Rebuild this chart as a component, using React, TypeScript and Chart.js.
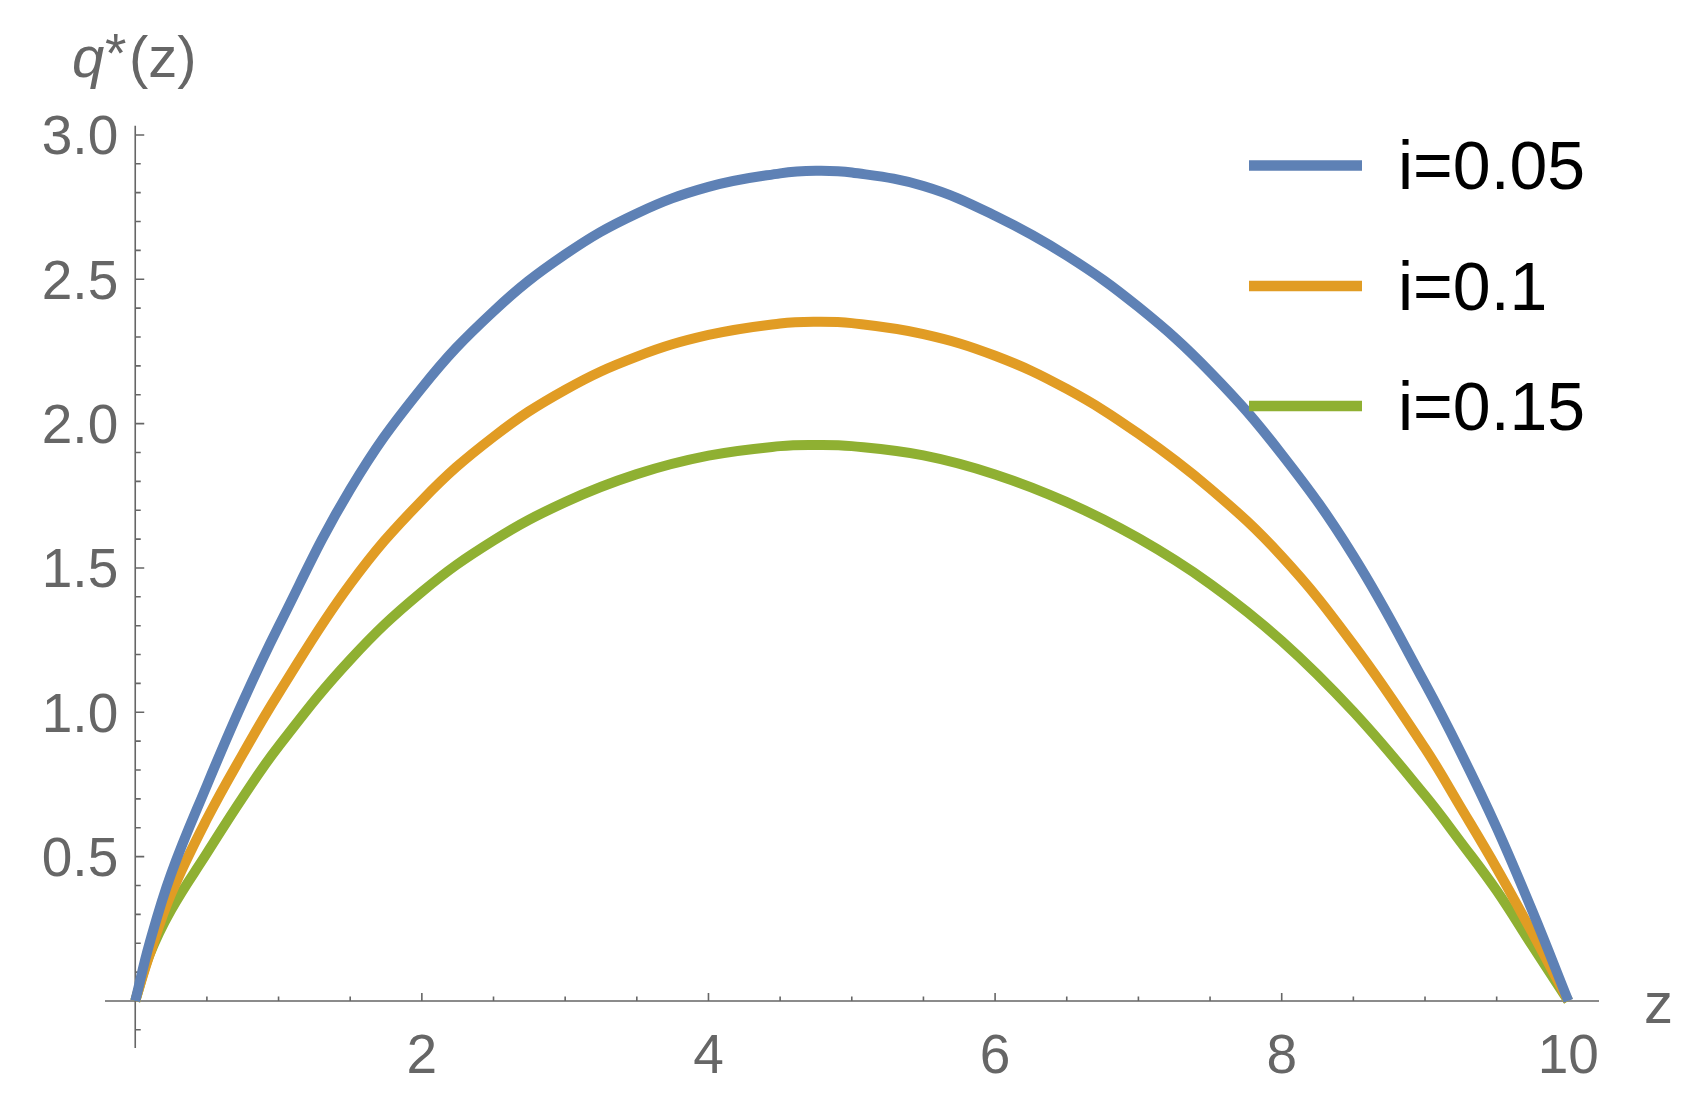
import React, { useEffect, useRef } from "react";
import { Chart, registerables } from "chart.js";

Chart.register(...registerables);

// ---- Data ----
const seriesLabels = ["i=0.05", "i=0.1", "i=0.15"];
const seriesColors = ["#5E81B5", "#E19C24", "#8FB032"];

const zValues = [0, 0.1, 0.25, 0.5, 0.75, 1, 1.5, 2, 2.5, 3, 3.5, 4, 4.5, 4.75, 5, 5.5, 6, 6.5, 7, 7.5, 8, 8.5, 9, 9.25, 9.5, 9.75, 10];
const qBlue = [0, 0.2, 0.44, 0.747, 1.035, 1.297, 1.772, 2.124, 2.389, 2.586, 2.728, 2.82, 2.867, 2.876, 2.87, 2.823, 2.72, 2.582, 2.404, 2.179, 1.894, 1.542, 1.1, 0.86, 0.6, 0.31, 0];
const qOrange = [0, 0.16, 0.37, 0.63, 0.855, 1.065, 1.444, 1.734, 1.954, 2.117, 2.232, 2.307, 2.347, 2.353, 2.348, 2.31, 2.235, 2.12, 1.965, 1.775, 1.54, 1.235, 0.875, 0.67, 0.46, 0.235, 0];
const qGreen = [0, 0.16, 0.315, 0.512, 0.705, 0.882, 1.182, 1.417, 1.595, 1.728, 1.825, 1.889, 1.922, 1.926, 1.922, 1.89, 1.824, 1.728, 1.603, 1.445, 1.247, 1.002, 0.712, 0.55, 0.382, 0.19, 0];

const xMajorTicks = [2, 4, 6, 8, 10];
const xTickLabels = ["2", "4", "6", "8", "10"];
const xMinorTicks = [0.5, 1, 1.5, 2.5, 3, 3.5, 4.5, 5, 5.5, 6.5, 7, 7.5, 8.5, 9, 9.5];
const yMajorTicks = [0.5, 1, 1.5, 2, 2.5, 3];
const yTickLabels = ["0.5", "1.0", "1.5", "2.0", "2.5", "3.0"];
const yMinorTicks = [-0.1, 0.1, 0.2, 0.3, 0.4, 0.6, 0.7, 0.8, 0.9, 1.1, 1.2, 1.3, 1.4, 1.6, 1.7, 1.8, 1.9, 2.1, 2.2, 2.3, 2.4, 2.6, 2.7, 2.8, 2.9];

const AXIS_COLOR = "#666666";
const FONT = '"Liberation Sans", Arial, Helvetica, sans-serif';

const mmaPlugin = {
  id: "mmaAxes",
  beforeDatasetsDraw(chart: any) {
    const ctx = chart.ctx as CanvasRenderingContext2D;
    const xs = chart.scales.x;
    const ys = chart.scales.y;
    const area = chart.chartArea;
    const x0 = xs.getPixelForValue(0);
    const y0 = ys.getPixelForValue(0);
    ctx.save();
    ctx.strokeStyle = AXIS_COLOR;
    ctx.lineWidth = 1.6;
    ctx.beginPath();
    ctx.moveTo(area.left, y0);
    ctx.lineTo(area.right, y0);
    ctx.moveTo(x0, area.top);
    ctx.lineTo(x0, area.bottom);
    xMajorTicks.forEach((v) => {
      const p = xs.getPixelForValue(v);
      ctx.moveTo(p, y0);
      ctx.lineTo(p, y0 - 8);
    });
    xMinorTicks.forEach((v) => {
      const p = xs.getPixelForValue(v);
      ctx.moveTo(p, y0);
      ctx.lineTo(p, y0 - 4.5);
    });
    yMajorTicks.forEach((v) => {
      const p = ys.getPixelForValue(v);
      ctx.moveTo(x0, p);
      ctx.lineTo(x0 + 9, p);
    });
    yMinorTicks.forEach((v) => {
      const p = ys.getPixelForValue(v);
      ctx.moveTo(x0, p);
      ctx.lineTo(x0 + 5.5, p);
    });
    ctx.stroke();

    ctx.fillStyle = AXIS_COLOR;
    ctx.font = `55px ${FONT}`;
    ctx.textBaseline = "alphabetic";
    ctx.textAlign = "center";
    xMajorTicks.forEach((v, i) => {
      ctx.fillText(xTickLabels[i], xs.getPixelForValue(v), y0 + 72);
    });
    ctx.textAlign = "right";
    yMajorTicks.forEach((v, i) => {
      ctx.fillText(yTickLabels[i], x0 - 17, ys.getPixelForValue(v) + 19.5);
    });

    // axis labels
    ctx.textAlign = "left";
    ctx.font = `italic 58px ${FONT}`;
    ctx.fillText("q", 72, 77);
    ctx.font = `55px ${FONT}`;
    ctx.fillText("*", 105, 72);
    ctx.font = `58px ${FONT}`;
    ctx.fillText("(z)", 129, 77);
    ctx.fillText("z", 1644, 1023);
    ctx.restore();
  },
  afterDatasetsDraw(chart: any) {
    const ctx = chart.ctx as CanvasRenderingContext2D;
    ctx.save();
    const lineY = [165.5, 286, 406];
    seriesLabels.forEach((lab, i) => {
      ctx.strokeStyle = seriesColors[i];
      ctx.lineWidth = 10.5;
      ctx.lineCap = "butt";
      ctx.beginPath();
      ctx.moveTo(1249, lineY[i]);
      ctx.lineTo(1362, lineY[i]);
      ctx.stroke();
      ctx.fillStyle = "#000000";
      ctx.font = `68px ${FONT}`;
      ctx.textAlign = "left";
      ctx.textBaseline = "alphabetic";
      ctx.fillText(lab, 1398, lineY[i] + 23.5);
    });
    ctx.restore();
  },
};

export default function App() {
  const canvasRef = useRef<HTMLCanvasElement | null>(null);

  useEffect(() => {
    const canvas = canvasRef.current;
    if (!canvas) return;
    const qs = [qBlue, qOrange, qGreen];
    const chart = new Chart(canvas, {
      type: "line",
      data: {
        datasets: seriesLabels.map((lab, i) => ({
          label: lab,
          data: zValues.map((z, k) => ({ x: z, y: qs[i][k] })),
          borderColor: seriesColors[i],
          backgroundColor: seriesColors[i],
          borderWidth: 10,
          borderJoinStyle: "round" as const,
          pointRadius: 0,
          tension: 0.4,
          fill: false,
          clip: false as any,
        })),
      },
      options: {
        animation: false,
        responsive: false,
        devicePixelRatio: 1,
        events: [],
        layout: { padding: { left: 105, right: 97, top: 125.7, bottom: 53 } },
        scales: {
          x: { type: "linear", min: -0.211, max: 10.214, display: false },
          y: { type: "linear", min: -0.163, max: 3.032, display: false },
        },
        plugins: {
          legend: { display: false },
          tooltip: { enabled: false },
          title: { display: false },
        },
      },
      plugins: [mmaPlugin],
    });
    return () => chart.destroy();
  }, []);

  return (
    <div style={{ position: "fixed", left: 0, top: 0, width: 1696, height: 1101, background: "#ffffff" }}>
      <canvas ref={canvasRef} width={1696} height={1101} style={{ width: 1696, height: 1101, display: "block" }} />
    </div>
  );
}
